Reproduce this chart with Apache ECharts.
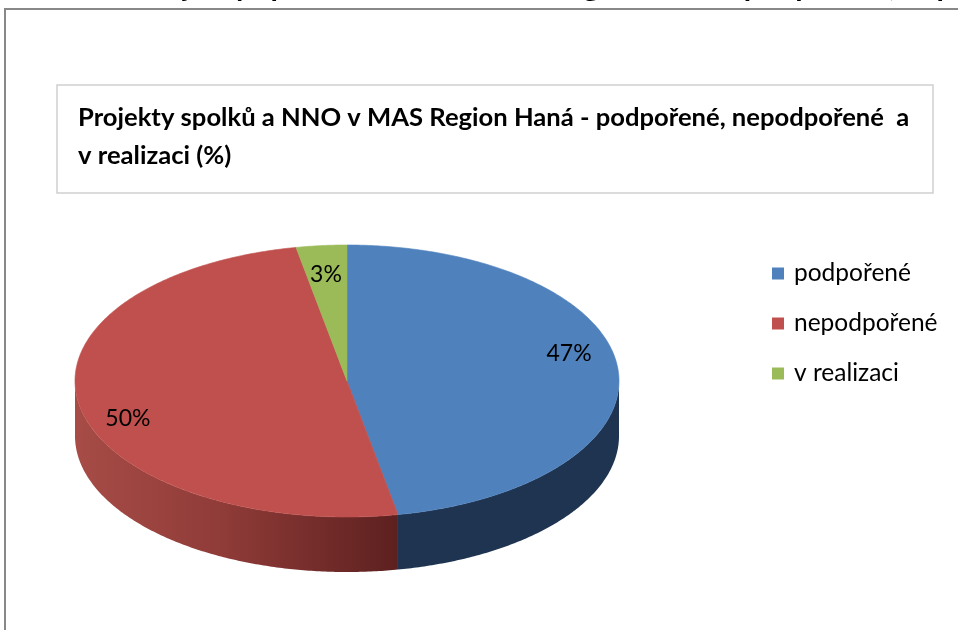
<!DOCTYPE html>
<html>
<head>
<meta charset="utf-8">
<script src="https://cdn.jsdelivr.net/npm/echarts@6/dist/echarts.min.js"></script>
<style>
  html, body { margin: 0; padding: 0; background: #fff; }
  #chart { width: 958px; height: 630px; }
</style>
</head>
<body>
<div id="chart"></div>
<script>
// Project outcomes of associations and NGOs (shares in %)
const categories = ['podpořené', 'nepodpořené', 'v realizaci'];
const shares = [47, 50, 3];
const chartTitle = 'Projekty spolků a NNO v MAS Region Haná - podpořené, nepodpořené  a\nv realizaci (%)';
const pageHeading = 'Projekty spolků a NNO v MAS Region Haná - podpořené, nepodpořené a v realizaci (%)';

const topColors = ['#4F81BD', '#C0504D', '#9BBB59'];
const FONT = 'Lato, "Open Sans", "Liberation Sans", sans-serif';

// Geometry of the tilted pie (top ellipse + extruded rim)
const PIE = { cx: 347, cy: 381, rx: 272, ry: 136, depth: 55 };

const total = shares.reduce((a, b) => a + b, 0);

function ellipsePoint(theta, dy) {
  return [PIE.cx + PIE.rx * Math.sin(theta), PIE.cy - PIE.ry * Math.cos(theta) + (dy || 0)];
}

function arcPoints(a, b, dy) {
  const pts = [];
  const n = Math.max(2, Math.ceil(Math.abs(b - a) / 0.01));
  for (let i = 0; i <= n; i++) pts.push(ellipsePoint(a + (b - a) * i / n, dy));
  return pts;
}

function sideFill(idx) {
  if (idx === 1) {
    return new echarts.graphic.LinearGradient(PIE.cx - PIE.rx, 0, PIE.cx + 60, 0, [
      { offset: 0, color: '#A74C47' },
      { offset: 0.45, color: '#8F3B38' },
      { offset: 1, color: '#5A1F1E' }
    ], true);
  }
  if (idx === 0) return '#1F3450';
  return '#5E7335';
}

function makeRenderer(idx) {
  return function (params, api) {
    const before = shares.slice(0, idx).reduce((a, b) => a + b, 0);
    const value = api.value(0);
    const t0 = 2 * Math.PI * before / total;
    const t1 = 2 * Math.PI * (before + value) / total;
    const children = [];

    // visible front rim of this slice
    const a = Math.max(t0, Math.PI / 2);
    const b = Math.min(t1, 3 * Math.PI / 2);
    if (a < b) {
      const pts = arcPoints(a, b, 0).concat(arcPoints(b, a, PIE.depth));
      children.push({
        type: 'polygon',
        shape: { points: pts },
        style: { fill: sideFill(idx), stroke: null }
      });
    }

    // top face
    const topPts = [[PIE.cx, PIE.cy]].concat(arcPoints(t0, t1, 0));
    children.push({
      type: 'polygon',
      shape: { points: topPts },
      style: { fill: topColors[idx], stroke: topColors[idx], lineWidth: 0.6 }
    });

    // percentage label, placed inside the slice with a slight perspective skew
    const mid = (t0 + t1) / 2;
    const lx = PIE.cx + 0.82 * PIE.rx * Math.sin(mid);
    const ly = PIE.cy - 0.8 * PIE.ry * Math.cos(mid) - 0.13 * PIE.ry * Math.sin(mid);
    children.push({
      type: 'text',
      x: lx, y: ly,
      style: {
        text: value + '%',
        fill: '#000',
        font: '23px ' + FONT,
        align: 'center',
        verticalAlign: 'middle'
      }
    });
    return { type: 'group', children: children };
  };
}

const chart = echarts.init(document.getElementById('chart'), null, { renderer: 'canvas' });

chart.setOption({
  animation: false,
  color: topColors,
  title: {
    text: chartTitle,
    left: 78,
    top: 99,
    padding: 0,
    textStyle: { fontFamily: FONT, fontSize: 25.6, fontWeight: 'bold', color: '#000', lineHeight: 38 }
  },
  legend: {
    orient: 'vertical',
    left: 772,
    top: 261,
    padding: 0,
    icon: 'rect',
    itemWidth: 12,
    itemHeight: 12,
    itemGap: 25,
    data: categories,
    textStyle: { fontFamily: FONT, fontSize: 24.5, color: '#000', lineHeight: 25, padding: [0, 0, 0, 5] }
  },
  graphic: [
    {
      type: 'text', z: -1, silent: true,
      style: { x: 137, y: 1.5, verticalAlign: 'bottom', text: pageHeading, font: 'bold 30px ' + FONT, fill: '#000' }
    },
    {
      type: 'rect', z: -2, silent: true,
      shape: { x: 5, y: 9, width: 1000, height: 700 },
      style: { fill: '#fff', stroke: '#888', lineWidth: 2 }
    },
    {
      type: 'rect', z: -1, silent: true,
      shape: { x: 57, y: 85, width: 876, height: 108 },
      style: { fill: '#fff', stroke: '#cfcfcf', lineWidth: 1.5 }
    }
  ],
  series: categories.map((name, i) => ({
    type: 'custom',
    name: name,
    coordinateSystem: 'none',
    itemStyle: { color: topColors[i] },
    data: [[shares[i]]],
    renderItem: makeRenderer(i)
  }))
});
</script>
</body>
</html>
